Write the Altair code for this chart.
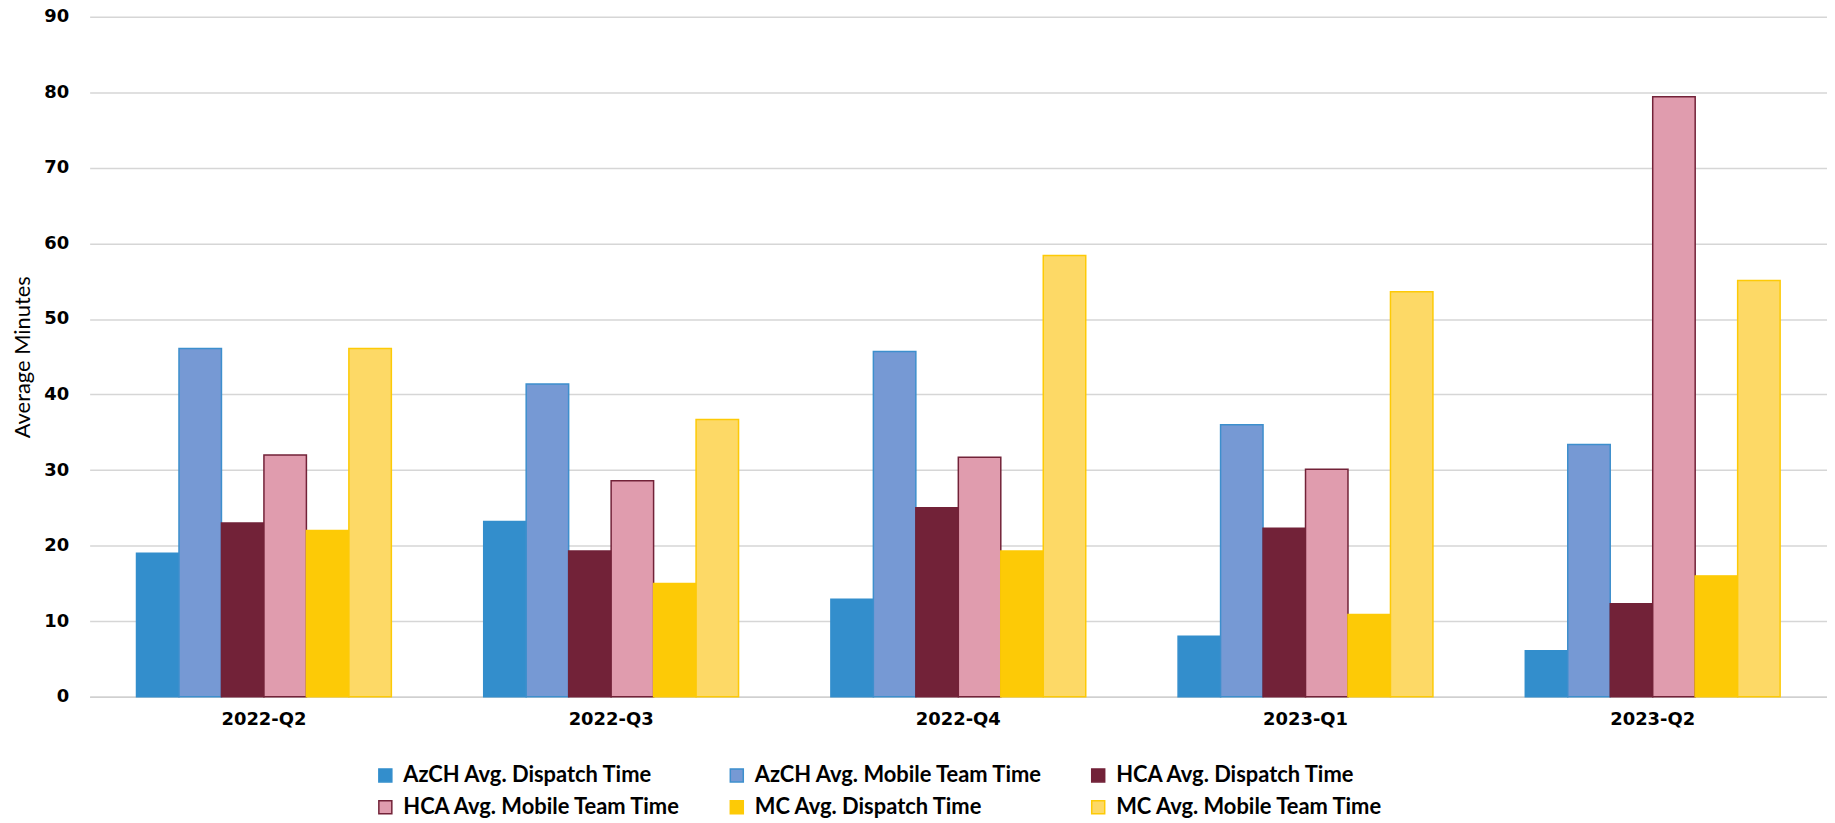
import altair as alt
import pandas as pd

quarters = ["2022-Q2", "2022-Q3", "2022-Q4", "2023-Q1", "2023-Q2"]
series = [
    "AzCH Avg. Dispatch Time",
    "AzCH Avg. Mobile Team Time",
    "HCA Avg. Dispatch Time",
    "HCA Avg. Mobile Team Time",
    "MC Avg. Dispatch Time",
    "MC Avg. Mobile Team Time",
]
azch_dispatch = [19.0, 23.2, 12.9, 8.0, 6.1]
azch_mobile = [46.1, 41.4, 45.7, 36.0, 33.4]
hca_dispatch = [23.0, 19.3, 25.0, 22.3, 12.3]
hca_mobile = [32.0, 28.6, 31.7, 30.1, 79.4]
mc_dispatch = [22.0, 15.0, 19.3, 10.9, 16.0]
mc_mobile = [46.1, 36.7, 58.4, 53.6, 55.1]

fill_colors = ["#338ECC", "#7699D4", "#722238", "#E09CAE", "#FDCA06", "#FDD966"]
stroke_colors = ["#338ECC", "#3D8FCD", "#722238", "#722238", "#FDCA06", "#FDCA06"]

values = [azch_dispatch, azch_mobile, hca_dispatch, hca_mobile, mc_dispatch, mc_mobile]
rows = []
for s, vals in zip(series, values):
    for q, v in zip(quarters, vals):
        rows.append({"quarter": q, "series": s, "value": v})
df = pd.DataFrame(rows)

label_font = "DejaVu Sans"
legend_font = "Lato"


def make_legend():
    return alt.Legend(
        title=None,
        orient="none",
        legendX=286,
        legendY=751,
        direction="horizontal",
        columns=3,
        labelFont=legend_font,
        labelFontSize=22,
        labelFontWeight="bold",
        labelColor="#000000",
        symbolType="square",
        symbolSize=170,
        symbolStrokeWidth=1.5,
        labelOffset=7,
        columnPadding=44,
        rowPadding=10,
        labelLimit=400,
    )


chart = alt.Chart(df).mark_bar(strokeWidth=1.5).encode(
    x=alt.X(
        "quarter:N",
        sort=quarters,
        title=None,
        scale=alt.Scale(paddingInner=0.266, paddingOuter=0.135),
        axis=alt.Axis(
            labelAngle=0,
            labelFont=label_font,
            labelFontSize=18,
            labelFontWeight="bold",
            labelColor="#000000",
            labelPadding=14,
            ticks=False,
            domain=True,
            domainColor="#d0d0d0",
            domainWidth=1.5,
        ),
    ),
    xOffset=alt.XOffset("series:N", sort=series, scale=alt.Scale(paddingInner=0, paddingOuter=0)),
    y=alt.Y(
        "value:Q",
        title="Average Minutes",
        scale=alt.Scale(domain=[0, 90], nice=False),
        axis=alt.Axis(
            values=list(range(0, 91, 10)),
            labelFont=label_font,
            labelFontSize=18,
            labelFontWeight="bold",
            labelColor="#000000",
            labelPadding=21,
            ticks=False,
            domain=False,
            grid=True,
            gridColor="#d6d6d6",
            gridWidth=1.5,
            titleFont=legend_font,
            titleFontSize=22,
            titleFontWeight="normal",
            titleColor="#000000",
            titlePadding=9,
        ),
    ),
    fill=alt.Fill(
        "series:N",
        sort=series,
        scale=alt.Scale(domain=series, range=fill_colors),
        legend=make_legend(),
    ),
    stroke=alt.Stroke(
        "series:N",
        sort=series,
        scale=alt.Scale(domain=series, range=stroke_colors),
        legend=make_legend(),
    ),
).properties(
    width=1745,
    height=683,
    autosize=alt.AutoSizeParams(type="none"),
    padding={"left": 82, "top": 7, "right": 0, "bottom": 125},
).configure_view(stroke=None)

chart.save("out.html", embed_options={"renderer": "svg", "actions": False})
